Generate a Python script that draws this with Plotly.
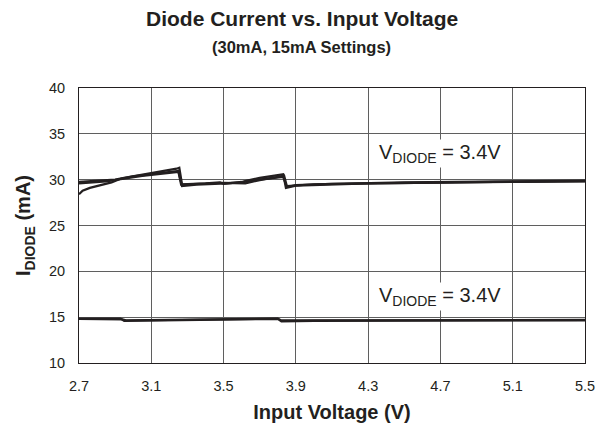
import plotly.graph_objects as go

# ---- data ----
vin_30a = [2.70, 2.72, 2.76, 2.82, 2.88, 2.93, 3.00, 3.10, 3.20, 3.25, 3.27, 3.35, 3.45, 3.50, 3.60, 3.65, 3.75, 3.83, 3.85, 3.90, 4.10, 4.50, 5.00, 5.50]
i_30a   = [28.4, 28.8, 29.1, 29.4, 29.7, 30.1, 30.35, 30.6, 30.85, 30.95, 29.3, 29.45, 29.55, 29.6, 29.7, 29.9, 30.1, 30.3, 29.2, 29.4, 29.55, 29.65, 29.75, 29.8]

vin_30b = [2.70, 2.80, 2.90, 2.95, 3.10, 3.20, 3.24, 3.255, 3.27, 3.40, 3.48, 3.50, 3.60, 3.63, 3.70, 3.80, 3.83, 3.845, 3.90, 4.30, 5.00, 5.50]
i_30b   = [29.75, 29.85, 30.0, 30.2, 30.7, 31.0, 31.2, 31.3, 29.5, 29.6, 29.7, 29.55, 29.75, 29.9, 30.2, 30.5, 30.6, 29.1, 29.35, 29.6, 29.75, 29.85]

vin_30c = [2.70, 2.85, 2.93, 3.05, 3.20, 3.25, 3.265, 3.40, 3.50, 3.62, 3.70, 3.80, 3.835, 3.85, 4.00, 4.50, 5.50]
i_30c   = [29.6, 29.8, 30.05, 30.4, 30.75, 30.85, 29.45, 29.55, 29.65, 29.6, 29.95, 30.3, 30.45, 29.3, 29.5, 29.7, 29.9]

vin_15a = [2.70, 2.93, 2.95, 3.10, 3.50, 3.80, 3.82, 4.00, 5.50]
i_15a   = [14.85, 14.85, 14.6, 14.65, 14.75, 14.82, 14.55, 14.6, 14.65]

vin_15b = [2.70, 2.94, 2.96, 3.30, 3.80, 3.82, 5.50]
i_15b   = [14.8, 14.75, 14.65, 14.75, 14.85, 14.65, 14.7]

x_ticks = [2.7, 3.1, 3.5, 3.9, 4.3, 4.7, 5.1, 5.5]
y_ticks = [10, 15, 20, 25, 30, 35, 40]

title_main = "Diode Current vs. Input Voltage"
title_sub = "(30mA, 15mA Settings)"
label_text = "V<sub>DIODE</sub> = 3.4V"
label_pos = [(4.70, 32.9), (4.70, 17.3)]

INK = "#231f20"
FONT = "Liberation Sans, Arial, sans-serif"

fig = go.Figure()
for xs, ys in [(vin_30a, i_30a), (vin_30b, i_30b), (vin_30c, i_30c), (vin_15a, i_15a), (vin_15b, i_15b)]:
    fig.add_trace(go.Scatter(x=xs, y=ys, mode="lines",
                             line=dict(color=INK, width=2.2), showlegend=False,
                             hoverinfo="skip"))

for lx, ly in label_pos:
    fig.add_annotation(x=lx, y=ly, xref="x", yref="y", text=label_text,
                       showarrow=False, bgcolor="white",
                       font=dict(family=FONT, size=20, color=INK))

fig.add_annotation(x=0.44, y=1, xref="paper", yref="paper", yanchor="middle",
                   yshift=70, text="<b>" + title_main + "</b>", showarrow=False,
                   font=dict(family=FONT, size=21, color=INK))
fig.add_annotation(x=0.44, y=1, xref="paper", yref="paper", yanchor="middle",
                   yshift=41, text="<b>" + title_sub + "</b>", showarrow=False,
                   font=dict(family=FONT, size=16.5, color=INK))

axis_common = dict(showline=True, linecolor=INK, linewidth=1, mirror=True,
                   showgrid=True, gridcolor="#5f5f5f", gridwidth=1,
                   zeroline=False, ticks="", ticklabelstandoff=10,
                   tickfont=dict(family=FONT, size=14.5, color=INK))

fig.update_xaxes(range=[2.7, 5.5], tickvals=x_ticks,
                 ticktext=[f"{v:.1f}" for v in x_ticks],
                 title=dict(text="<b>Input Voltage (V)</b>", standoff=11,
                            font=dict(family=FONT, size=20, color=INK)),
                 **axis_common)
fig.update_yaxes(range=[10, 40], tickvals=y_ticks,
                 title=dict(text="<b>I<sub>DIODE</sub> (mA)</b>", standoff=12,
                            font=dict(family=FONT, size=20, color=INK)),
                 **axis_common)

fig.update_layout(width=605, height=438,
                  margin=dict(l=71, r=28, t=80, b=83, autoexpand=False),
                  paper_bgcolor="white", plot_bgcolor="white",
                  font=dict(family=FONT, color=INK))

fig.write_html("out.html")
